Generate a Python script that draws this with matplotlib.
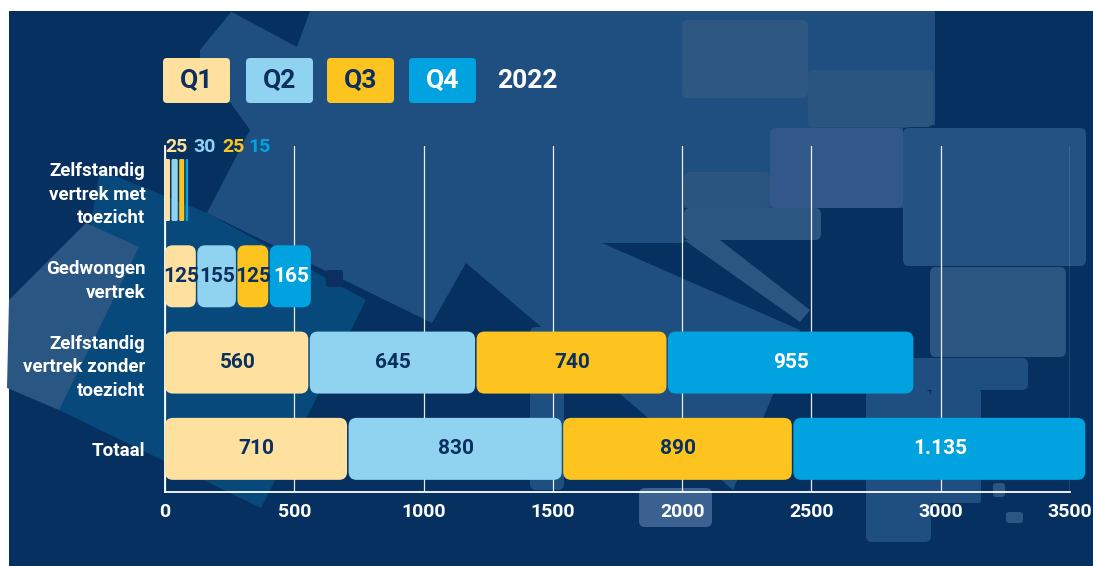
import matplotlib
matplotlib.use("Agg")
import matplotlib.pyplot as plt
from matplotlib.patches import FancyBboxPatch, Polygon, Rectangle

plt.rcParams['font.family'] = ['Roboto', 'DejaVu Sans']
plt.rcParams['font.weight'] = 'bold'

# data
categories = ['Zelfstandig\nvertrek met\ntoezicht', 'Gedwongen\nvertrek',
              'Zelfstandig\nvertrek zonder\ntoezicht', 'Totaal']
quarters = ['Q1', 'Q2', 'Q3', 'Q4']
q1 = [25, 125, 560, 710]
q2 = [30, 155, 645, 830]
q3 = [25, 125, 740, 890]
q4 = [15, 165, 955, 1135]
year_label = '2022'
xticks = [0, 500, 1000, 1500, 2000, 2500, 3000, 3500]

colors = ['#FEE19F', '#8FD3F1', '#FDC41F', '#00A3DF']
text_colors = ['#0B2F5E', '#0B2F5E', '#0B2F5E', '#FFFFFF']
navy = '#05305F'

W, H = 1093, 566
fig = plt.figure(figsize=(W / 100, H / 100), dpi=100)
fig.patch.set_facecolor('white')


def fx(x):
    return x / W


def fy(y):
    return 1 - y / H


# background panel
fig.patches.append(Rectangle((fx(9), 0), 1 - fx(9), fy(11), transform=fig.transFigure,
                             facecolor=navy, edgecolor='none', zorder=-10))


def poly(pts, color, alpha=1.0, z=-9):
    fig.patches.append(Polygon([(fx(a), fy(b)) for a, b in pts], closed=True,
                               transform=fig.transFigure, facecolor=color,
                               edgecolor='none', alpha=alpha, zorder=z))


def rbox(x0, y0, x1, y1, color, alpha=1.0, r=6):
    fig.patches.append(FancyBboxPatch((fx(x0), fy(y1)), fx(x1 - x0), (y1 - y0) / H,
                                      boxstyle=f"round,pad=0,rounding_size={r / W}",
                                      mutation_aspect=W / H, transform=fig.transFigure,
                                      facecolor=color, edgecolor='none', alpha=alpha,
                                      zorder=-8))


# decorative shapes
poly([(59, 410), (261, 508), (366, 300), (207, 213), (100, 170)], '#08497B')
poly([(7, 388), (59, 410), (139, 247), (86, 223), (9, 300)], '#2A5683', z=-8.5)
poly([(200, 50), (232, 11), (935, 11), (935, 125), (903, 128), (903, 208), (684, 208),
      (684, 243), (602, 243), (800, 330), (733, 490), (466, 263), (432, 323),
      (207, 213), (250, 130), (200, 60)], '#1E4F80')
poly([(230, 11), (310, 11), (297, 47)], navy, z=-8.8)
rbox(682, 20, 808, 98, '#2E5782')
rbox(808, 70, 933, 127, '#29557F')
rbox(770, 128, 903, 208, '#32588A')
rbox(684, 172, 770, 208, '#29557F')
rbox(684, 208, 821, 240, '#2B5681')
poly([(684, 240), (720, 240), (810, 310), (800, 322)], '#2B5681')
rbox(903, 128, 1086, 266, '#235283')
rbox(930, 267, 1066, 357, '#2B5681')
rbox(864, 358, 1028, 390, '#1F4F80')
rbox(866, 390, 931, 542, '#1F4F80')
rbox(931, 390, 981, 503, '#1F4F80', r=2)
rbox(530, 327, 564, 490, '#1F4F80')
rbox(639, 488, 712, 527, '#3A6190')
rbox(993, 483, 1005, 497, '#2B5681', r=3)
rbox(1006, 512, 1023, 523, '#2B5681', r=3)
rbox(326, 270, 343, 287, '#0B2F5E', r=3)

# axes
ax = fig.add_axes([fx(165), fy(492), fx(1070 - 165), (492 - 146) / H])
ax.set_facecolor('none')
ax.set_xlim(0, 3500)
ax.set_ylim(3.5, -0.51)

sx = 905 / 3500
sy = 346 / 4.01
bar_h = 62 / sy
gap = 1.5 / sx
r_px = 8

series = [q1, q2, q3, q4]
for row in range(len(categories)):
    left = 0
    for k, s in enumerate(series):
        w = s[row]
        rr = min(r_px / sx, (w - gap) * 0.25)
        p = FancyBboxPatch((left, row - bar_h / 2), w - gap, bar_h,
                           boxstyle=f"round,pad=0,rounding_size={rr}",
                           mutation_aspect=sx / sy, facecolor=colors[k],
                           edgecolor='none', clip_on=False, zorder=3)
        ax.add_patch(p)
        lbl = f"{w:,}".replace(",", ".")
        if w >= 100:
            ax.text(left + w / 2, row, lbl, ha='center', va='center', fontsize=15,
                    color=text_colors[k], fontweight='bold', zorder=4)
        left += w

# small row: labels above the bar
offs = [0, 28, 57, 83]
for k, s in enumerate(series):
    ax.annotate(str(s[0]), xy=(0, -bar_h / 2), xytext=(offs[k] * 0.72, 2),
                textcoords='offset points', ha='left', va='bottom', fontsize=14,
                color=colors[k], fontweight='bold', annotation_clip=False, zorder=4)

ax.set_xticks(xticks)
ax.set_xticklabels([str(t) for t in xticks])
ax.set_yticks(range(len(categories)))
ax.set_yticklabels(categories)
ax.tick_params(axis='both', length=0, colors='white')
ax.tick_params(axis='y', pad=14, labelsize=13.5)
ax.tick_params(axis='x', pad=8, labelsize=14)
for lab in ax.get_xticklabels() + ax.get_yticklabels():
    lab.set_fontweight('bold')
    lab.set_color('white')
for lab in ax.get_yticklabels():
    lab.set_linespacing(1.38)
ax.grid(axis='x', color='white', lw=0.9, alpha=0.9, zorder=1)
ax.set_axisbelow(True)
for side in ['top', 'right']:
    ax.spines[side].set_visible(False)
for side in ['left', 'bottom']:
    ax.spines[side].set_color('white')
    ax.spines[side].set_linewidth(1.3)

# legend boxes
lx = [163, 246, 327, 409]
for k, q in enumerate(quarters):
    x0 = lx[k]
    fig.patches.append(FancyBboxPatch((fx(x0), fy(103)), fx(67), 45 / H,
                                      boxstyle=f"round,pad=0,rounding_size={4 / W}",
                                      mutation_aspect=W / H, transform=fig.transFigure,
                                      facecolor=colors[k], edgecolor='none', zorder=2))
    fig.text(fx(x0 + 33.5), fy(81), q, ha='center', va='center', fontsize=19,
             fontweight='bold', color=text_colors[k])
fig.text(fx(497), fy(81), year_label, ha='left', va='center', fontsize=19,
         fontweight='bold', color='white')

fig.savefig('out.png', dpi=100, facecolor=fig.get_facecolor())
